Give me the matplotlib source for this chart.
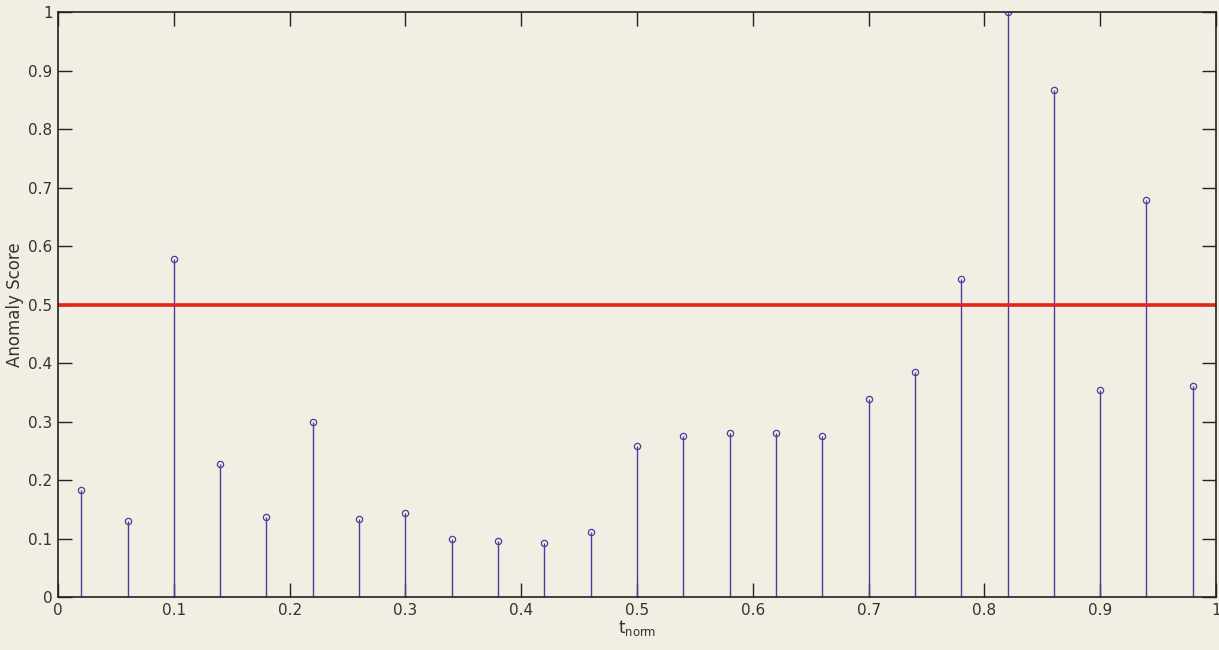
import matplotlib
matplotlib.use('Agg')
import matplotlib.pyplot as plt
import numpy as np

t_norm = [0.02, 0.06, 0.10, 0.14, 0.18, 0.22, 0.26, 0.30, 0.34, 0.38, 0.42, 0.46, 0.50,
          0.54, 0.58, 0.62, 0.66, 0.70, 0.74, 0.78, 0.82, 0.86, 0.90, 0.94, 0.98]
score = [0.183, 0.130, 0.578, 0.228, 0.137, 0.300, 0.134, 0.143, 0.100, 0.095, 0.093, 0.112, 0.258,
         0.275, 0.281, 0.281, 0.276, 0.339, 0.385, 0.544, 1.000, 0.866, 0.354, 0.678, 0.361]
threshold = 0.5

bg = '#f1eee4'
stemcol = '#4a3d9c'
txtcol = '#333333'

fig = plt.figure(figsize=(12.19, 6.5), dpi=100, facecolor=bg)
ax = fig.add_axes([0.0476, 0.0815, 0.9499, 0.9])
ax.set_facecolor(bg)

markers, stems, base = ax.stem(t_norm, score, basefmt=' ')
plt.setp(stems, color=stemcol, linewidth=1.0)
plt.setp(markers, color=stemcol, marker='o', markerfacecolor='none', markersize=4.5, markeredgewidth=0.9)

ax.plot([0, 1], [threshold, threshold], color='#e0261c', linewidth=2.6, solid_capstyle='butt')

ax.set_xlim(0, 1)
ax.set_ylim(0, 1)
ax.set_xticks(np.arange(0, 1.01, 0.1))
ax.set_yticks(np.arange(0, 1.01, 0.1))
ax.set_xticklabels(['0', '0.1', '0.2', '0.3', '0.4', '0.5', '0.6', '0.7', '0.8', '0.9', '1'])
ax.set_yticklabels(['0', '0.1', '0.2', '0.3', '0.4', '0.5', '0.6', '0.7', '0.8', '0.9', '1'])
ax.tick_params(direction='in', length=10, width=1, top=True, right=True, labelsize=11,
               color='#222222', labelcolor=txtcol, pad=4)
for s in ax.spines.values():
    s.set_linewidth(1.2)
    s.set_color('#222222')

ax.set_xlabel(r'$\mathregular{t_{norm}}$', fontsize=12, labelpad=0, color=txtcol)
ax.set_ylabel('Anomaly Score', fontsize=12, labelpad=3, color=txtcol)

fig.savefig('out.png', dpi=100, facecolor=bg)
